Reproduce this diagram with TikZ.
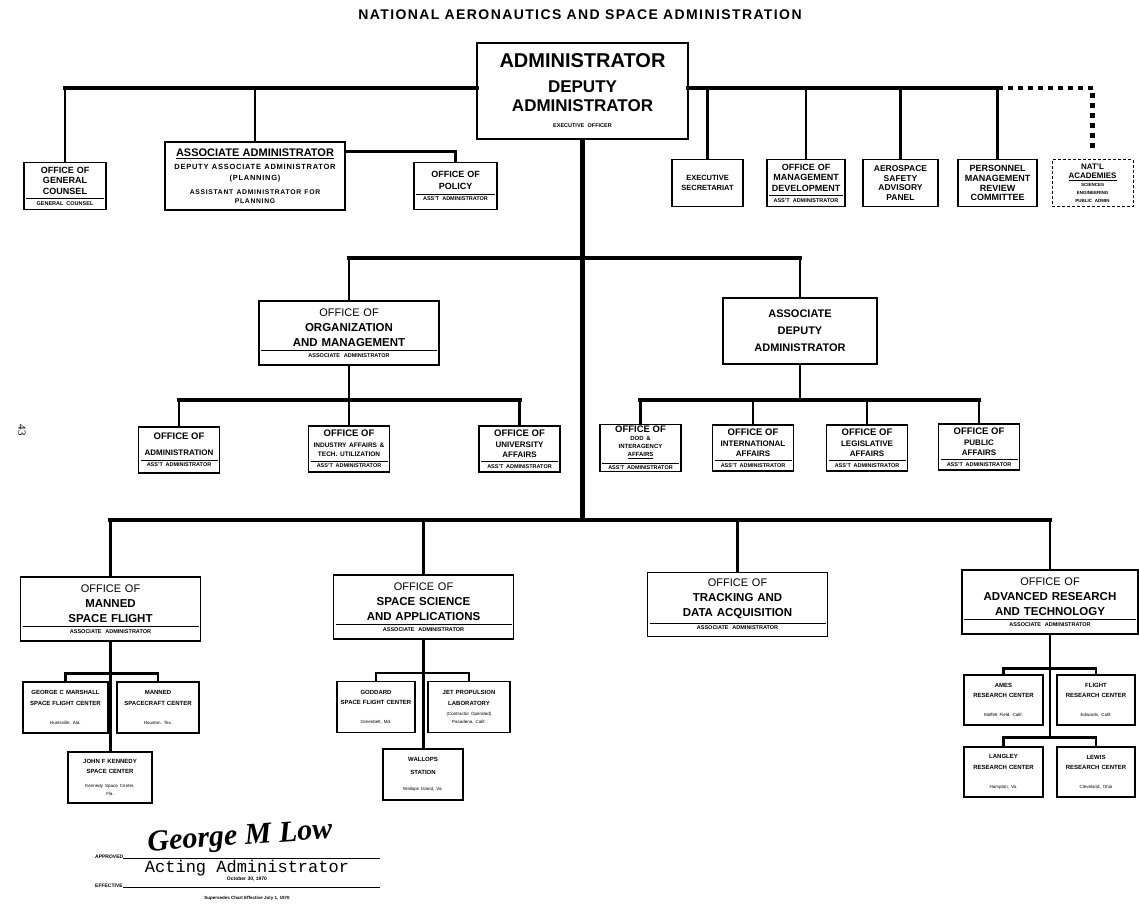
\documentclass[tikz,border=0pt]{standalone}
\usepackage{fontspec}
\setmainfont{Liberation Sans}
\newfontfamily\widefont[LetterSpace=10]{Liberation Sans}
\newfontfamily\typefont{Liberation Mono}
\newfontfamily\handfont{Liberation Serif}
\usetikzlibrary{
    positioning
}
\tikzset{
    every picture/.style = {
        x = 1pt,
        y = -1pt
    },
    unit/.style = {
        draw,
        line width = 1.2pt,
        fill = white,
        inner sep = 2pt,
        align = center,
        font = \bfseries
    },
    desk/.style = {
        unit,
        minimum height = 47pt,
        font = \bfseries\fontsize{9}{10.5}\selectfont
    },
    office/.style = {
        unit,
        text width = 176pt,
        minimum height = 64pt,
        font = \bfseries\fontsize{11.5}{15}\selectfont
    },
    bureau/.style = {
        unit,
        text width = 77pt,
        minimum height = 46pt,
        font = \bfseries\fontsize{8}{9.5}\selectfont
    },
    centre/.style = {
        unit,
        minimum height = 51pt,
        font = \bfseries\fontsize{6}{10.5}\selectfont
    },
    academy/.style = {
        desk,
        line width = 1pt,
        dash pattern = on 3pt off 2pt
    },
    caption/.style = {
        inner sep = 0pt,
        align = center
    },
    bar/.style = {line width = 4.5pt, line cap = rect},
    trunk/.style = {line width = 5pt},
    branch/.style = {line width = 2.5pt},
    twig/.style = {line width = 2.2pt},
    liaison/.style = {line width = 4.5pt, dash pattern = on 5pt off 5pt}
}
% rule and officer title at the foot of a box
\newcommand{\officer}[2][5.5]{\par\vspace{4pt}\hrule height 0.7pt\vspace{2.5pt}{\fontsize{#1}{#1}\selectfont #2\par}}
% location line of a field centre
\newcommand{\site}[2][11pt]{\par\vspace{#1}{\mdseries\fontsize{4.5}{8}\selectfont #2\par}}

\begin{document}
\begin{tikzpicture}
    \useasboundingbox (0,0) rectangle (1139,907);
    \node[caption, font = \widefont\bfseries\fontsize{14}{14}\selectfont] (heading) at (580,15) {NATIONAL AERONAUTICS AND SPACE ADMINISTRATION};

    % top management and staff offices
    \node[unit, text width = 207pt, minimum height = 96pt] (admin) at (582.5,91) {{\fontsize{20}{20}\selectfont ADMINISTRATOR\par}\vspace{6pt}{\fontsize{17}{19}\selectfont DEPUTY\\ADMINISTRATOR\par}\vspace{10pt}{\fontsize{5.5}{6}\selectfont EXECUTIVE OFFICER\par}};
    \node[desk, text width = 78pt] (counsel) at (65,186) {OFFICE OF\\GENERAL\\COUNSEL\officer{GENERAL COUNSEL}};
    \node[unit, text width = 176pt, minimum height = 68pt] (assoc) at (255,176) {{\fontsize{11}{12}\selectfont\underline{ASSOCIATE ADMINISTRATOR}\par}\vspace{2pt}{\widefont\fontsize{7.5}{11}\selectfont DEPUTY ASSOCIATE ADMINISTRATOR\\(PLANNING)\par}\vspace{5pt}{\widefont\fontsize{6.8}{9}\selectfont ASSISTANT ADMINISTRATOR FOR\\PLANNING\par}};
    \node[desk, text width = 79pt] (policy) at (455.5,186) {OFFICE OF\\[2pt]POLICY\officer{ASS'T ADMINISTRATOR}};
    \node[desk, text width = 67pt, font = \bfseries\fontsize{7.5}{10}\selectfont] (secretariat) at (707.5,183) {EXECUTIVE\\SECRETARIAT};
    \node[desk, text width = 74pt] (development) at (806,183) {OFFICE OF\\MANAGEMENT\\DEVELOPMENT\officer{ASS'T ADMINISTRATOR}};
    \node[desk, text width = 71pt, font = \bfseries\fontsize{8.5}{9.5}\selectfont] (safety) at (900.5,183) {AEROSPACE\\SAFETY\\ADVISORY\\PANEL};
    \node[desk, text width = 75pt, font = \bfseries\fontsize{9}{9.8}\selectfont] (personnel) at (997.5,183) {PERSONNEL\\MANAGEMENT\\REVIEW\\COMMITTEE};
    \node[academy, text width = 77pt, font = \bfseries\fontsize{8}{9}\selectfont] (academies) at (1092.5,183) {NAT'L\\\underline{ACADEMIES}\par{\fontsize{4.5}{8}\selectfont SCIENCES\\ENGINEERING\\PUBLIC ADMIN\par}};

    % second level
    \node[office] (organization) at (349,333) {{\mdseries\fontsize{11}{15}\selectfont OFFICE OF\par}ORGANIZATION\\AND MANAGEMENT\officer{ASSOCIATE ADMINISTRATOR}};
    \node[office, text width = 150pt, minimum height = 66pt, font = \bfseries\fontsize{11}{17}\selectfont] (deputy) at (800,331) {ASSOCIATE\\DEPUTY\\ADMINISTRATOR};

    \node[bureau] (administration) at (179,450) {{\fontsize{9.5}{11}\selectfont OFFICE OF\par}\vspace{6pt}ADMINISTRATION\officer{ASS'T ADMINISTRATOR}};
    \node[bureau] (industry) at (349,449) {{\fontsize{9.5}{11}\selectfont OFFICE OF\par}\vspace{2pt}{\fontsize{6.5}{9}\selectfont INDUSTRY AFFAIRS \&\\TECH. UTILIZATION\par}\officer{ASS'T ADMINISTRATOR}};
    \node[bureau] (university) at (519.5,449) {{\fontsize{9.5}{11}\selectfont OFFICE OF\par}\vspace{2pt}UNIVERSITY\\AFFAIRS\officer{ASS'T ADMINISTRATOR}};
    \node[bureau] (defense) at (640.5,448) {{\fontsize{9.5}{11}\selectfont OFFICE OF\par}{\fontsize{6}{8}\selectfont DOD \&\\INTERAGENCY\\\underline{AFFAIRS}\par}\officer{ASS'T ADMINISTRATOR}};
    \node[bureau] (international) at (753,448) {{\fontsize{9.5}{11}\selectfont OFFICE OF\par}\vspace{2pt}INTERNATIONAL\\AFFAIRS\officer{ASS'T ADMINISTRATOR}};
    \node[bureau] (legislative) at (867,448) {{\fontsize{9.5}{11}\selectfont OFFICE OF\par}\vspace{2pt}LEGISLATIVE\\AFFAIRS\officer{ASS'T ADMINISTRATOR}};
    \node[bureau] (public) at (979,447) {{\fontsize{9.5}{11}\selectfont OFFICE OF\par}\vspace{2pt}PUBLIC\\AFFAIRS\officer{ASS'T ADMINISTRATOR}};

    % program offices
    \node[office] (manned) at (110.5,609) {{\mdseries\fontsize{11}{15}\selectfont OFFICE OF\par}MANNED\\SPACE FLIGHT\officer{ASSOCIATE ADMINISTRATOR}};
    \node[office] (science) at (423.5,607) {{\mdseries\fontsize{11}{15}\selectfont OFFICE OF\par}SPACE SCIENCE\\AND APPLICATIONS\officer{ASSOCIATE ADMINISTRATOR}};
    \node[office] (tracking) at (737.5,604.5) {{\mdseries\fontsize{11}{15}\selectfont OFFICE OF\par}TRACKING AND\\DATA ACQUISITION\officer{ASSOCIATE ADMINISTRATOR}};
    \node[office, text width = 172pt] (research) at (1050,602) {{\mdseries\fontsize{11}{15}\selectfont OFFICE OF\par}ADVANCED RESEARCH\\AND TECHNOLOGY\officer{ASSOCIATE ADMINISTRATOR}};

    % field centres
    \node[centre, text width = 81pt] (marshall) at (65.5,707.5) {GEORGE C MARSHALL\\SPACE FLIGHT CENTER\site{Huntsville, Ala.}};
    \node[centre, text width = 78pt] (spacecraft) at (158,707.5) {MANNED\\SPACECRAFT CENTER\site{Houston, Tex.}};
    \node[centre, text width = 80pt] (kennedy) at (110,777.5) {JOHN F KENNEDY\\SPACE CENTER\site[6pt]{Kennedy Space Center,\\Fla.}};
    \node[centre, text width = 74pt] (goddard) at (376,707) {GODDARD\\SPACE FLIGHT CENTER\site{Greenbelt, Md.}};
    \node[centre, text width = 78pt] (jpl) at (469,707) {JET PROPULSION\\LABORATORY\site[2pt]{(Contractor Operated)\\Pasadena, Calif.}};
    \node[centre, text width = 76pt] (wallops) at (423,774.5) {WALLOPS\\[2pt]STATION\site[8pt]{Wallops Island, Va.}};
    \node[centre, text width = 75pt, minimum height = 50pt] (ames) at (1003.5,700) {AMES\\RESEARCH CENTER\site{Moffett Field, Calif.}};
    \node[centre, text width = 74pt, minimum height = 50pt] (flight) at (1096,700) {FLIGHT\\RESEARCH CENTER\site{Edwards, Calif.}};
    \node[centre, text width = 75pt, minimum height = 50pt] (langley) at (1003.5,772) {LANGLEY\\RESEARCH CENTER\site{Hampton, Va.}};
    \node[centre, text width = 74pt, minimum height = 50pt] (lewis) at (1096,772) {LEWIS\\RESEARCH CENTER\site{Cleveland, Ohio}};

    % lines of authority
    \coordinate (hub) at (0,88);
    \coordinate (mid) at (0,258);
    \coordinate (low) at (0,400);
    \coordinate (base) at (0,520);
    \draw[bar] (counsel.north |- hub) -- (admin.west |- hub);
    \draw[bar] (admin.east |- hub) -- (personnel.north |- hub);
    \draw[liaison] (personnel.north |- hub) -| ([yshift = 7pt]academies.north);
    \foreach \n in {counsel, assoc, secretariat, development, safety, personnel}
        \draw[branch] (\n.north) -- (\n.north |- hub);
    \draw[branch] ([yshift = -10pt]assoc.north east) -| (policy.north);
    \draw[trunk] (admin.south) -- (admin.south |- base);

    \draw[bar] (organization.north |- mid) -- (deputy.north |- mid);
    \draw[bar] (administration.north |- low) -- (university.north |- low);
    \draw[bar] (defense.north |- low) -- (public.north |- low);
    \foreach \n in {organization, deputy} {
        \draw[branch] (\n.north) -- (\n.north |- mid);
        \draw[branch] (\n.south) -- (\n.south |- low);
    }
    \foreach \n in {administration, industry, university, defense, international, legislative, public}
        \draw[branch] (\n.north) -- (\n.north |- low);
    \draw[bar] (manned.north |- base) -- (research.north |- base);
    \foreach \n in {manned, science, tracking, research}
        \draw[branch] (\n.north) -- (\n.north |- base);

    \draw[twig] (marshall.north) -- ++(0,-8) -| (spacecraft.north);
    \draw[twig] (manned.south) -- (manned.south |- kennedy.north);
    \draw[twig] (goddard.north) -- ++(0,-8) -| (jpl.north);
    \draw[twig] (science.south) -- (science.south |- wallops.north);
    \draw[twig] (ames.north) -- ++(0,-6) -| (flight.north);
    \draw[twig] (langley.north) -- ++(0,-9) coordinate (ring) -| (lewis.north);
    \draw[twig] (research.south) -- (research.south |- ring);

    % approval
    \coordinate (ledger) at (380,0);
    \node[caption, anchor = base west, font = \bfseries\fontsize{5}{5}\selectfont] (approved) at (95,858) {APPROVED};
    \draw[line width = 0.8pt] (approved.base east) -- (approved.base east -| ledger);
    \node[caption, rotate = 4, font = \handfont\bfseries\itshape\fontsize{30}{30}\selectfont] (signature) at (240,838) {George M Low};
    \node[caption, font = \typefont\fontsize{17}{17}\selectfont] (acting) at (247,868) {Acting Administrator};
    \node[caption, anchor = base west, font = \bfseries\fontsize{5}{5}\selectfont] (effective) at (95,887) {EFFECTIVE};
    \draw[line width = 0.8pt] (effective.base east) -- (effective.base east -| ledger);
    \node[caption, font = \bfseries\fontsize{5}{5}\selectfont] (date) at (247,879) {October 30, 1970};
    \node[caption, font = \bfseries\fontsize{4.5}{5}\selectfont] (supersedes) at (247,898) {Supersedes Chart Effective July 1, 1970};
    \node[caption, rotate = -90, font = \handfont\fontsize{11}{11}\selectfont] (folio) at (22,430) {43};
\end{tikzpicture}
\end{document}
